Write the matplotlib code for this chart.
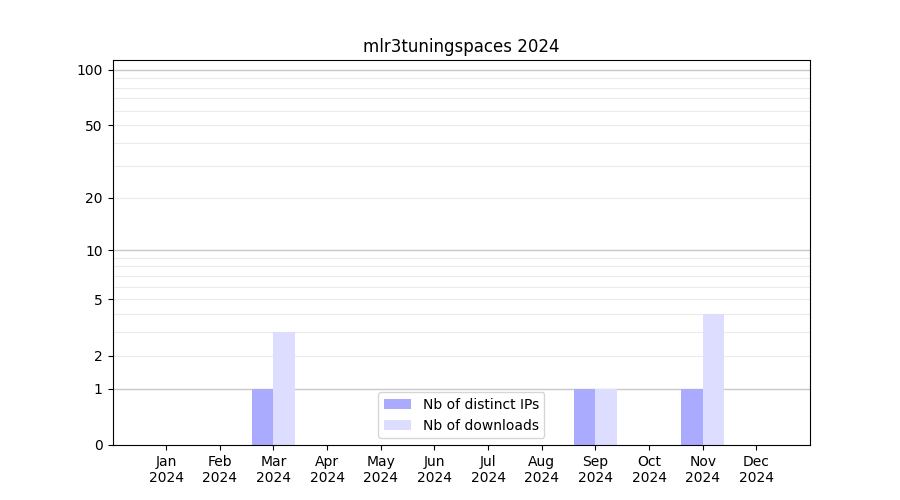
import numpy as np
import matplotlib
matplotlib.use("Agg")
import matplotlib.pyplot as plt

# 월별 데이터
months = ["Jan", "Feb", "Mar", "Apr", "May", "Jun",
          "Jul", "Aug", "Sep", "Oct", "Nov", "Dec"]
year = 2024
distinct_ips = [0, 0, 1, 0, 0, 0, 0, 0, 1, 0, 1, 0]
downloads = [0, 0, 3, 0, 0, 0, 0, 0, 1, 0, 4, 0]

y_ticks = [0, 1, 2, 5, 10, 20, 50, 100]
major_grid = [1, 10, 100]
minor_grid = [2, 3, 4, 5, 6, 7, 8, 9, 20, 30, 40, 50, 60, 70, 80, 90]


def forward(y):
    return np.log10(1 + np.asarray(y, dtype=float))


def inverse(y):
    return 10 ** np.asarray(y, dtype=float) - 1


fig, ax = plt.subplots(figsize=(9, 5), dpi=100)
x = np.arange(len(months))
width = 0.4

ax.bar(x - width / 2, distinct_ips, width, color="#aaaaff", label="Nb of distinct IPs", zorder=2)
ax.bar(x + width / 2, downloads, width, color="#ddddff", label="Nb of downloads", zorder=2)

ax.set_yscale("function", functions=(forward, inverse))
ax.set_ylim(0, 113)
ax.set_xlim(-1, 12)

# 격자선
for v in minor_grid:
    ax.axhline(v, color="#ebebeb", linewidth=0.8, zorder=0)
for v in major_grid:
    ax.axhline(v, color="#c8c8c8", linewidth=1.0, zorder=1)

ax.set_yticks(y_ticks)
ax.set_yticklabels([str(t) for t in y_ticks])
ax.yaxis.set_minor_locator(matplotlib.ticker.NullLocator())
ax.set_xticks(x)
ax.set_xticklabels([f"{m}\n{year}" for m in months])

ax.set_title(f"mlr3tuningspaces {year}")
ax.legend(loc="lower center")

plt.savefig("out.png", dpi=100)
